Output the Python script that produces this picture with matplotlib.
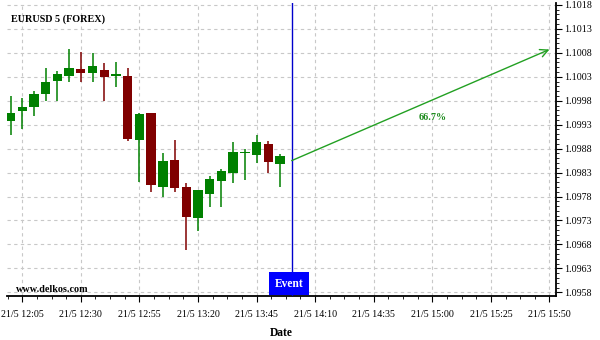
import matplotlib
matplotlib.use("Agg")
import matplotlib.pyplot as plt
import matplotlib.dates as mdates
from matplotlib.ticker import FixedLocator, FuncFormatter, MultipleLocator, AutoMinorLocator
import pandas as pd

plt.rcParams['font.family'] = ['Liberation Serif', 'DejaVu Serif']

day = "2020-05-21 "
times = ["12:00", "12:05", "12:10", "12:15", "12:20", "12:25", "12:30", "12:35",
         "12:40", "12:45", "12:50", "12:55", "13:00", "13:05", "13:10", "13:15",
         "13:20", "13:25", "13:30", "13:35", "13:40", "13:45", "13:50", "13:55"]
opens = [1.09938, 1.09958, 1.09966, 1.09993, 1.10022, 1.10031, 1.10047, 1.10038,
         1.10045, 1.10032, 1.10031, 1.09898, 1.09954, 1.09800, 1.09856, 1.09799,
         1.09736, 1.09786, 1.09813, 1.09829, 1.09870, 1.09867, 1.09889, 1.09848]
closes = [1.09954, 1.09966, 1.09993, 1.10020, 1.10035, 1.10049, 1.10038, 1.10052,
          1.10029, 1.10036, 1.09900, 1.09952, 1.09804, 1.09854, 1.09798, 1.09738,
          1.09793, 1.09816, 1.09833, 1.09872, 1.09873, 1.09893, 1.09852, 1.09865]
highs = [1.09990, 1.09986, 1.10001, 1.10049, 1.10042, 1.10087, 1.10082, 1.10080,
         1.10059, 1.10061, 1.10049, 1.09954, 1.09955, 1.09870, 1.09899, 1.09809,
         1.09794, 1.09822, 1.09837, 1.09893, 1.09880, 1.09909, 1.09895, 1.09868]
lows = [1.09909, 1.09920, 1.09949, 1.09979, 1.09980, 1.10019, 1.10020, 1.10020,
        1.09980, 1.10009, 1.09896, 1.09810, 1.09790, 1.09780, 1.09790, 1.09668,
        1.09708, 1.09759, 1.09759, 1.09809, 1.09815, 1.09849, 1.09830, 1.09799]

event_time = "14:00"
arrow_start = ("14:00", 1.09855)
arrow_end = ("15:50", 1.10087)
arrow_label = "66.7%"
label_pos = ("15:00", 1.09945)

xtick_times = ["12:05", "12:30", "12:55", "13:20", "13:45", "14:10", "14:35",
               "15:00", "15:25", "15:50"]
ytick_values = [1.0958, 1.0963, 1.0968, 1.0973, 1.0978, 1.0983, 1.0988,
                1.0993, 1.0998, 1.1003, 1.1008, 1.1013, 1.1018]
xlim_times = ("11:58:30", "15:52:40")
ylim = (1.09573, 1.10184)

title = "EURUSD 5 (FOREX)"
watermark = "www.delkos.com"
xlabel = "Date"

def tnum(t):
    return mdates.date2num(pd.Timestamp(day + t))

GREEN = "#008000"
RED = "#800000"

fig = plt.figure(figsize=(6.0, 3.4), dpi=100)
ax = fig.add_axes([7/600, 1 - 295.7/340, (555.7 - 7)/600, (295.7 - 3)/340])

x = [tnum(t) for t in times]
width = 4 / 1440
for xi, o, c, h, l in zip(x, opens, closes, highs, lows):
    col = GREEN if c >= o else RED
    ax.vlines(xi, l, h, color=col, lw=1.1, zorder=3)
    hgt = c - o
    if abs(hgt) < 0.00003:
        hgt = 0.00003 if hgt >= 0 else -0.00003
    ax.bar(xi, hgt, bottom=o, width=width, color=col, edgecolor=col, lw=0, zorder=4)

ex = tnum(event_time)
ax.axvline(ex, color="#0000CC", lw=1.0, zorder=5)

ax.annotate("", xy=(tnum(arrow_end[0]), arrow_end[1]),
            xytext=(tnum(arrow_start[0]), arrow_start[1]),
            arrowprops=dict(arrowstyle="->", color="#22A022", lw=1.0,
                            mutation_scale=14, shrinkA=0, shrinkB=0), zorder=6)
ax.text(tnum(label_pos[0]), label_pos[1], arrow_label, color="#1E8C1E",
        fontsize=7.3, fontweight="bold", ha="center", va="center", zorder=6)

ax.text(ex - 0.0007, 1.09573 + (1.0958 - 1.09573) * 0 + 0.00025, "Event", color="white",
        fontsize=8.3, fontweight="bold", ha="center", va="center", zorder=7,
        bbox=dict(boxstyle="square,pad=0.5", fc="#0000FF", ec="none"))

ax.set_xlim(tnum(xlim_times[0]), tnum(xlim_times[1]))
ax.set_ylim(*ylim)

ax.xaxis.set_major_locator(FixedLocator([tnum(t) for t in xtick_times]))
ax.xaxis.set_minor_locator(AutoMinorLocator(4))
ax.xaxis.set_major_formatter(FuncFormatter(
    lambda v, p: (lambda d: f"{d.day}/{d.month} {d:%H:%M}")(mdates.num2date(v))))
ax.yaxis.set_major_locator(FixedLocator(ytick_values))
ax.yaxis.set_minor_locator(MultipleLocator(0.0001))
ax.yaxis.set_major_formatter(FuncFormatter(lambda v, p: f"{v:.4f}"))
ax.yaxis.tick_right()

for s in ("left", "top"):
    ax.spines[s].set_visible(False)
for s in ("bottom", "right"):
    ax.spines[s].set_linewidth(1.3)

ax.tick_params(axis="both", which="major", labelsize=7.2, length=4, width=0.8,
               direction="out", colors="black")
ax.tick_params(axis="both", which="minor", length=2, width=0.6, direction="out")
ax.tick_params(axis="x", which="major", pad=6)
ax.tick_params(axis="y", which="major", pad=2)

ax.grid(which="major", color="#c8c8c8", linestyle=(0, (3, 3)), lw=0.8, zorder=0)
ax.set_axisbelow(True)

ax.set_xlabel(xlabel, fontsize=8.3, fontweight="bold", labelpad=6)

fig.text(11/600, 1 - 19.3/340, title, fontsize=7.3, fontweight="bold",
         ha="left", va="center")
fig.text(16/600, 1 - 289.3/340, watermark, fontsize=7.3, fontweight="bold",
         ha="left", va="center")

fig.savefig("out.png", dpi=100)
